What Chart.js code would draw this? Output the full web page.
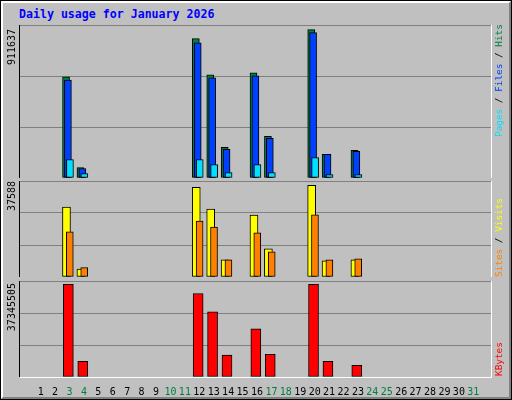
<!DOCTYPE html>
<html>
<head>
<meta charset="utf-8">
<script src="https://cdn.jsdelivr.net/npm/chart.js@4/dist/chart.umd.min.js"></script>
<style>
  body { margin: 0; background: #fff; }
  #frame { position: absolute; left: 0; top: 0; width: 510px; height: 398px; border: 1px solid #000; background: #C0C0C0; }
  #inner { position: absolute; left: 0; top: 0; width: 506px; height: 394px; border-top: 2px solid #fff; border-left: 2px solid #fff; border-right: 2px solid #808080; border-bottom: 2px solid #808080; }
  #title { position: absolute; left: 19px; top: 7px; font: bold 11.6px "DejaVu Sans Mono", monospace; color: #0000FF; }
  canvas { position: absolute; left: 0; }
</style>
</head>
<body>
<div id="frame"><div id="inner"></div></div>
<div id="title">Daily usage for January 2026</div>
<div style="position:absolute;left:0;top:25px;width:512px;height:153px"><canvas id="cTop"></canvas></div>
<div style="position:absolute;left:0;top:181px;width:512px;height:96px"><canvas id="cMid"></canvas></div>
<div style="position:absolute;left:0;top:281px;width:512px;height:117px"><canvas id="cBot"></canvas></div>
<script>
// 数据
var days = [];
for (var i = 1; i <= 31; i++) days.push(i);
var weekendDays = [3, 4, 10, 11, 17, 18, 24, 25, 31];

var hits   = [0,0,620900,64300,0,0,0,0,0,0,0,855900,633300,188000,0,645600,256000,0,0,911637,144700,0,169400,0,0,0,0,0,0,0,0];
var files  = [0,0,602000,58100,0,0,0,0,0,0,0,831100,614700,175600,0,627100,243700,0,0,893000,144700,0,163300,0,0,0,0,0,0,0,0];
var pages  = [0,0,113800,27200,0,0,0,0,0,0,0,113800,82900,33400,0,82900,33400,0,0,126200,21000,0,21000,0,0,0,0,0,0,0,0];
var visits = [0,0,28640,3250,0,0,0,0,0,0,0,36770,27820,7080,0,25380,11550,0,0,37588,6670,0,7080,0,0,0,0,0,0,0,0];
var sites  = [0,0,18470,3820,0,0,0,0,0,0,0,22940,20500,7080,0,18060,10330,0,0,25500,7080,0,7490,0,0,0,0,0,0,0,0];
var kbytes = [0,0,37345505,6292000,0,0,0,0,0,0,0,33669000,26314000,8867000,0,19368000,9153000,0,0,37345505,6292000,0,4658000,0,0,0,0,0,0,0,0];

var maxLabels = ['911637', '37588', '37345505'];
var axisMax = [940000, 39340, 38694000];

function series(values, shift) {
    return values.map((v, i) => ({ x: days[i] + shift, y: v === 0 ? null : v }));
}

// order: higher number is drawn first (underneath)
function barSet(values, shift, color, width, order) {
    return {
        data: series(values, shift),
        backgroundColor: color,
        borderColor: '#000',
        borderWidth: 1,
        borderSkipped: false,
        barThickness: width,
        grouped: false,
        order: order
    };
}

// panel border, left max label, right legend
var panelPlugin = {
    id: 'panel',
    afterDraw(chart, args, opts) {
        var ctx = chart.ctx, a = chart.chartArea;
        ctx.save();
        ctx.strokeStyle = '#000';
        ctx.lineWidth = 1;
        ctx.beginPath();
        ctx.moveTo(a.left - 0.5, a.bottom); ctx.lineTo(a.left - 0.5, a.top - 0.5); ctx.lineTo(a.right, a.top - 0.5);
        ctx.stroke();
        ctx.strokeStyle = '#fff';
        ctx.beginPath();
        ctx.moveTo(a.right + 0.5, a.top); ctx.lineTo(a.right + 0.5, a.bottom + 0.5); ctx.lineTo(a.left, a.bottom + 0.5);
        ctx.stroke();

        ctx.font = '10px "DejaVu Sans Mono", monospace';
        ctx.fillStyle = '#000';
        ctx.textBaseline = 'middle';
        ctx.translate(12, a.top + opts.maxTop);
        ctx.rotate(-Math.PI / 2);
        ctx.textAlign = 'right';
        ctx.fillText(opts.max, 0, 0);
        ctx.restore();

        ctx.save();
        ctx.font = '9.4px "DejaVu Sans Mono", monospace';
        ctx.textBaseline = 'middle';
        ctx.translate(500, a.top + opts.legendBottom);
        ctx.rotate(-Math.PI / 2);
        ctx.textAlign = 'left';
        var x = 0;
        opts.legend.forEach(p => {
            ctx.fillStyle = p[1];
            ctx.fillText(p[0], x, 0);
            x += ctx.measureText(p[0]).width;
        });
        ctx.restore();
    }
};

function makeChart(id, datasets, idx, showX, legend, legendBottom, maxTop) {
    var ctx = document.getElementById(id).getContext('2d');
    return new Chart(ctx, {
        type: 'bar',
        data: { datasets: datasets },
        plugins: [panelPlugin],
        options: {
            responsive: true,
            maintainAspectRatio: false,
            animation: false,
            layout: { padding: { left: 20, right: 21, top: 0, bottom: 0 } },
            scales: {
                x: {
                    type: 'linear',
                    min: 0.094,
                    max: 31.70,
                    display: showX,
                    grid: { display: false },
                    border: { display: false },
                    afterBuildTicks: s => { s.ticks = days.map(d => ({ value: d })); },
                    afterFit: s => { s.height = showX ? 21 : 0; },
                    ticks: {
                        padding: 1,
                        maxRotation: 0,
                        autoSkip: false,
                        font: { family: '"DejaVu Sans Mono", monospace', size: 10 },
                        color: c => weekendDays.includes(c.tick.value) ? '#008040' : '#000',
                        callback: v => String(v)
                    }
                },
                y: {
                    min: 0,
                    max: axisMax[idx],
                    afterBuildTicks: s => { s.ticks = [0, 1, 2, 3].map(k => ({ value: axisMax[idx] * k / 3 })); },
                    afterFit: s => { s.width = 0; },
                    ticks: { display: false },
                    grid: { color: '#808080', lineWidth: 1, drawTicks: false },
                    border: { display: false }
                }
            },
            plugins: {
                legend: { display: false },
                tooltip: { enabled: false },
                panel: { max: maxLabels[idx], legend: legend, legendBottom: legendBottom, maxTop: maxTop }
            }
        }
    });
}

makeChart('cTop', [
    barSet(hits, -0.24, '#008040', 7, 3),
    barSet(files, -0.11, '#0040FF', 7, 2),
    barSet(pages, 0.03, '#00E0FF', 7, 1)
], 0, false, [['Pages', '#00E0FF'], [' / ', '#000'], ['Files', '#0040FF'], [' / ', '#000'], ['Hits', '#008040']], 112, 4);

makeChart('cMid', [
    barSet(visits, -0.21, '#FFFF00', 8, 2),
    barSet(sites, 0.02, '#FF8000', 7, 1)
], 1, false, [['Sites', '#FF8000'], [' / ', '#000'], ['Visits', '#FFFF00']], 96, 0);

makeChart('cBot', [
    barSet(kbytes, -0.08, '#FF0000', 10, 1)
], 2, true, [['KBytes', '#FF0000']], 95, 2);
</script>
</body>
</html>
